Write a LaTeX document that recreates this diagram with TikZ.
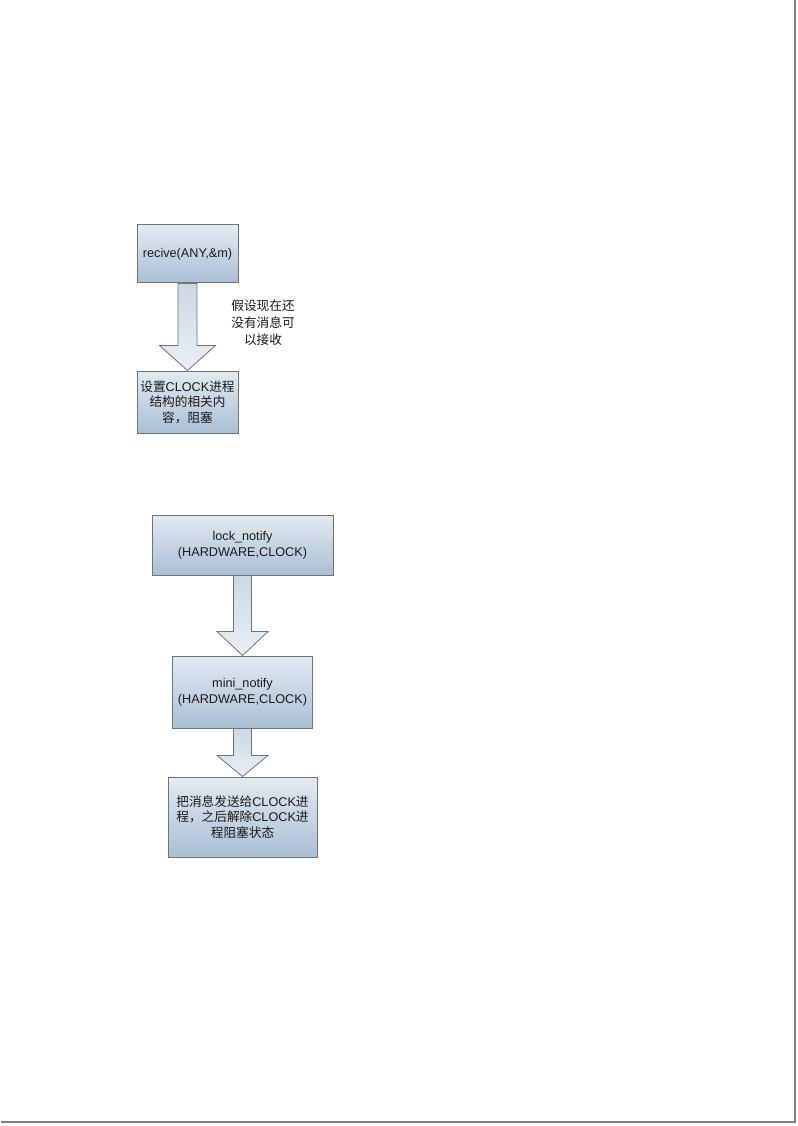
\documentclass[tikz,border=0pt]{standalone}
\usepackage{fontspec}
\setmainfont{Liberation Sans}
\newfontfamily\cjk{Noto Sans CJK SC}
\usepackage{tikz}
\usetikzlibrary{positioning, calc}
\definecolor{boxtop}{HTML}{E3EAF1}
\definecolor{boxbottom}{HTML}{A9BFD5}
\definecolor{boxline}{HTML}{6B7580}
\definecolor{arrowtop}{HTML}{CCD8E4}
\definecolor{arrowbottom}{HTML}{E9EFF5}
\definecolor{textcol}{HTML}{1A1A1A}
\tikzset{
    stepbox/.style = {
        rectangle, draw=boxline, line width=0.75pt,
        top color=boxtop, bottom color=boxbottom,
        inner sep=2pt, align=center, text=textcol,
        font=\fontsize{9.5}{11.6}\selectfont
    },
    note/.style = {
        align=center, text=textcol,
        font=\fontsize{9.5}{12.8}\selectfont
    },
    blockarrow/.style = {
        draw=boxline, line width=0.6pt,
        top color=arrowtop, bottom color=arrowbottom
    },
    pageedge/.style = {
        draw=gray, line width=1.6pt
    }
}
% hollow arrow: from, to, half shaft, half head, head length
\newcommand{\flowarrow}[5]{%
    \path[blockarrow] ($(#1)+(-#3,0)$) -- ($(#2)+(-#3,-#5)$) -- ($(#2)+(-#4,-#5)$)
        -- (#2) -- ($(#2)+(#4,-#5)$) -- ($(#2)+(#3,-#5)$) -- ($(#1)+(#3,0)$) -- cycle;}

\begin{document}
\begin{tikzpicture}[x=0.75pt, y=-0.75pt]

\useasboundingbox (0,0) rectangle (798,1126);

\node (recv) [stepbox, minimum width=75.75pt, minimum height=43.5pt] at (187.5,254) {recive(ANY,\&m)};
\node (block) [stepbox, minimum width=75.75pt, minimum height=46.5pt, below=65.25pt of recv]
    {{\cjk 设置}CLOCK{\cjk 进程}\\{\cjk 结构的相关内}\\{\cjk 容，阻塞}};
\node (nomsg) [note] at (263,323) {\cjk 假设现在还\\\cjk 没有消息可\\\cjk 以接收};

\node (lock) [stepbox, minimum width=135.75pt, minimum height=45pt] at (242.5,545) {lock\_notify\\(HARDWARE,CLOCK)};
\node (mini) [stepbox, minimum width=105pt, minimum height=54pt, below=60pt of lock] {mini\_notify\\(HARDWARE,CLOCK)};
\node (send) [stepbox, minimum width=111.75pt, minimum height=60pt, below=36pt of mini]
    {{\cjk 把消息发送给}CLOCK{\cjk 进}\\{\cjk 程，之后解除}CLOCK{\cjk 进}\\{\cjk 程阻塞状态}};

\flowarrow{recv.south}{block.north}{9.5}{28}{25}
\flowarrow{lock.south}{mini.north}{9}{25.5}{24}
\flowarrow{mini.south}{send.north}{9}{25.5}{21}

\draw [pageedge] (795,0) -- (795,1122) -- (1,1122);

\end{tikzpicture}
\end{document}
